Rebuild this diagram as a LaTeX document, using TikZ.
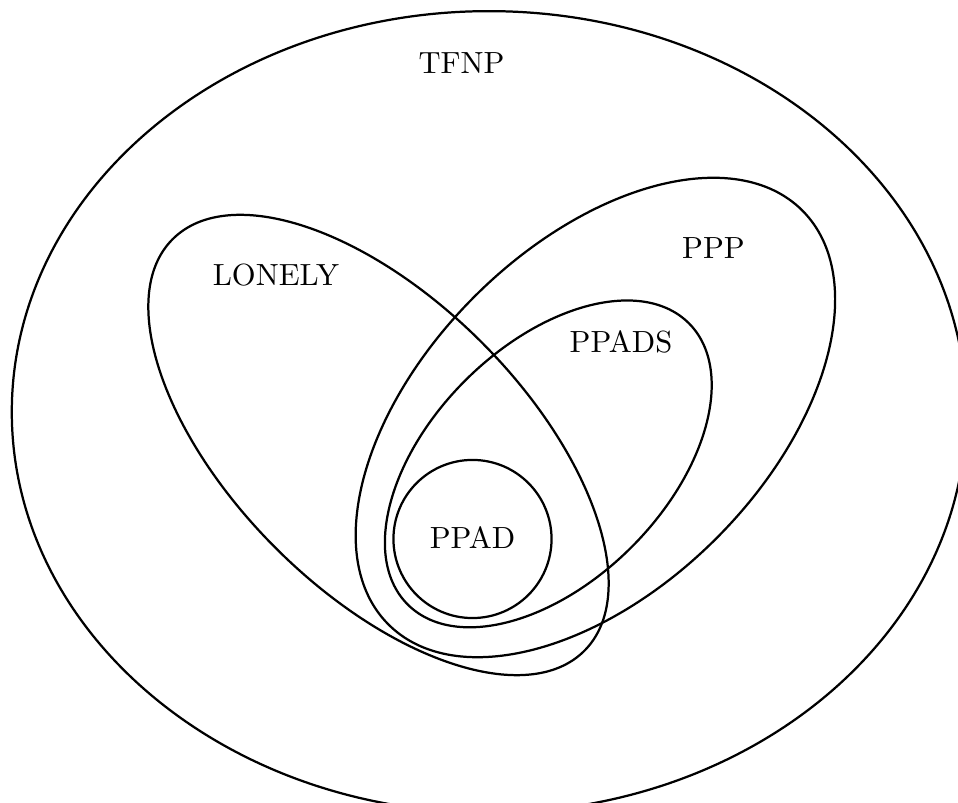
\documentclass[tikz,border=0pt]{standalone}
\begin{document}
\begin{tikzpicture}[x=0.012579cm, y=-0.012579cm,
  setline/.style={thick},
  setlabel/.style={font=\fontsize{10.95}{13.6}\selectfont, inner sep=0pt}]
\useasboundingbox (0,0) rectangle (958,803);
\clip (0,0) rectangle (958,803);
% outer TFNP
\draw[setline] (489,412) ellipse [x radius=6.0cm, y radius=5.04cm];
% LONELY
\draw[setline, rotate around={-45:(378.5,445)}] (378.5,445) ellipse [x radius=3.66cm, y radius=1.83cm];
% PPP
\draw[setline, rotate around={45:(595.4,417.5)}] (595.4,417.5) ellipse [x radius=3.68cm, y radius=2.15cm];
% PPADS
\draw[setline, rotate around={45:(548.3,463.9)}] (548.3,463.9) ellipse [x radius=2.50cm, y radius=1.48cm];
% PPAD
\draw[setline] (472.5,539) circle [radius=0.994cm];
% labels
\node[setlabel] (tfnp) at (461.5,63) {TFNP};
\node[setlabel] (lonely) at (276,275.5) {LONELY};
\node[setlabel] (ppp) at (713.5,248) {PPP};
\node[setlabel] (ppads) at (621,341.5) {PPADS};
\node[setlabel] (ppad) at (472.5,538) {PPAD};
\end{tikzpicture}
\end{document}
